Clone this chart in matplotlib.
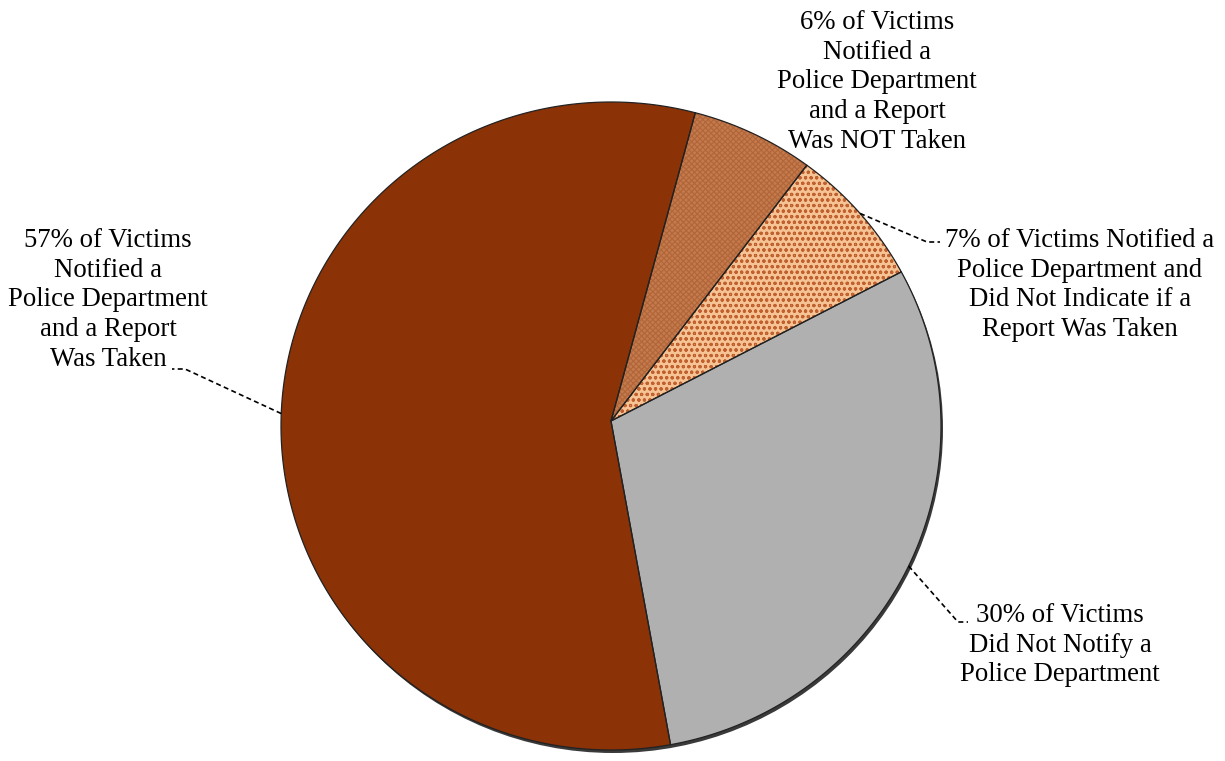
import numpy as np
import matplotlib.pyplot as plt
from matplotlib.patches import Polygon, Ellipse

plt.rcParams['font.family'] = ['Liberation Serif', 'DejaVu Serif']

labels = ['57% of Victims\nNotified a\nPolice Department\nand a Report\nWas Taken',
          '30% of Victims\nDid Not Notify a\nPolice Department',
          '7% of Victims Notified a\nPolice Department and\nDid Not Indicate if a\nReport Was Taken',
          '6% of Victims\nNotified a\nPolice Department\nand a Report\nWas NOT Taken']
values = [57, 30, 7, 6]
colors = ['#8b3207', '#b0b0b0', '#f5c394', '#c47a4c']
hatches = [None, None, 'ooo', 'xxxxxx']
hatch_colors = [None, None, '#c0602f', '#b06638']

W, H = 1225, 761
cx, cy, rx, ry = 611, 426, 330, 324
apex = (611, 421)

fig = plt.figure(figsize=(W / 100, H / 100), dpi=100)
ax = fig.add_axes([0, 0, 1, 1])
ax.set_xlim(0, W)
ax.set_ylim(H, 0)
ax.axis('off')

def edge(t):
    return cx + rx * np.cos(t), cy - ry * np.sin(t)

# dark rim under the pie
ax.add_patch(Ellipse((cx + 2, cy + 3), 2 * rx, 2 * ry, facecolor='#3a3a3a', edgecolor='none', zorder=0))

start = 75.2
theta = start
mids = []
for v, c, h, hc in zip(values, colors, hatches, hatch_colors):
    t2 = theta + v / sum(values) * 360
    ts = np.deg2rad(np.linspace(theta, t2, 200))
    pts = [apex] + [edge(t) for t in ts]
    ax.add_patch(Polygon(pts, closed=True, facecolor=c, edgecolor='none', zorder=1))
    if h:
        plt.rcParams['hatch.linewidth'] = 0.8
        ax.add_patch(Polygon(pts, closed=True, facecolor='none', edgecolor=hc,
                             linewidth=0, hatch=h, zorder=2))
    ax.add_patch(Polygon(pts, closed=True, facecolor='none', edgecolor='#222222',
                         linewidth=0.9, joinstyle='round', zorder=3))
    mids.append(np.deg2rad((theta + t2) / 2))
    theta = t2

# label centres and leader elbows (pixels)
text_pos = [(108, 300), (1060, 645), (1080, 285), (877, 82)]
elbows = [[(185, 369), (172, 369)], [(958, 622), (968, 622)], [(927, 242), (940, 242)], None]

for lab, m, tp, el in zip(labels, mids, text_pos, elbows):
    ax.text(tp[0], tp[1], lab, ha='center', va='center', fontsize=19.3, linespacing=1.26, clip_on=False)
    if el:
        x0, y0 = edge(m)
        xs = [x0] + [p[0] for p in el]
        ys = [y0] + [p[1] for p in el]
        ax.plot(xs, ys, color='black', linestyle=(0, (3, 2)), linewidth=1.2, clip_on=False, zorder=4)

fig.savefig('out.png', dpi=100)
